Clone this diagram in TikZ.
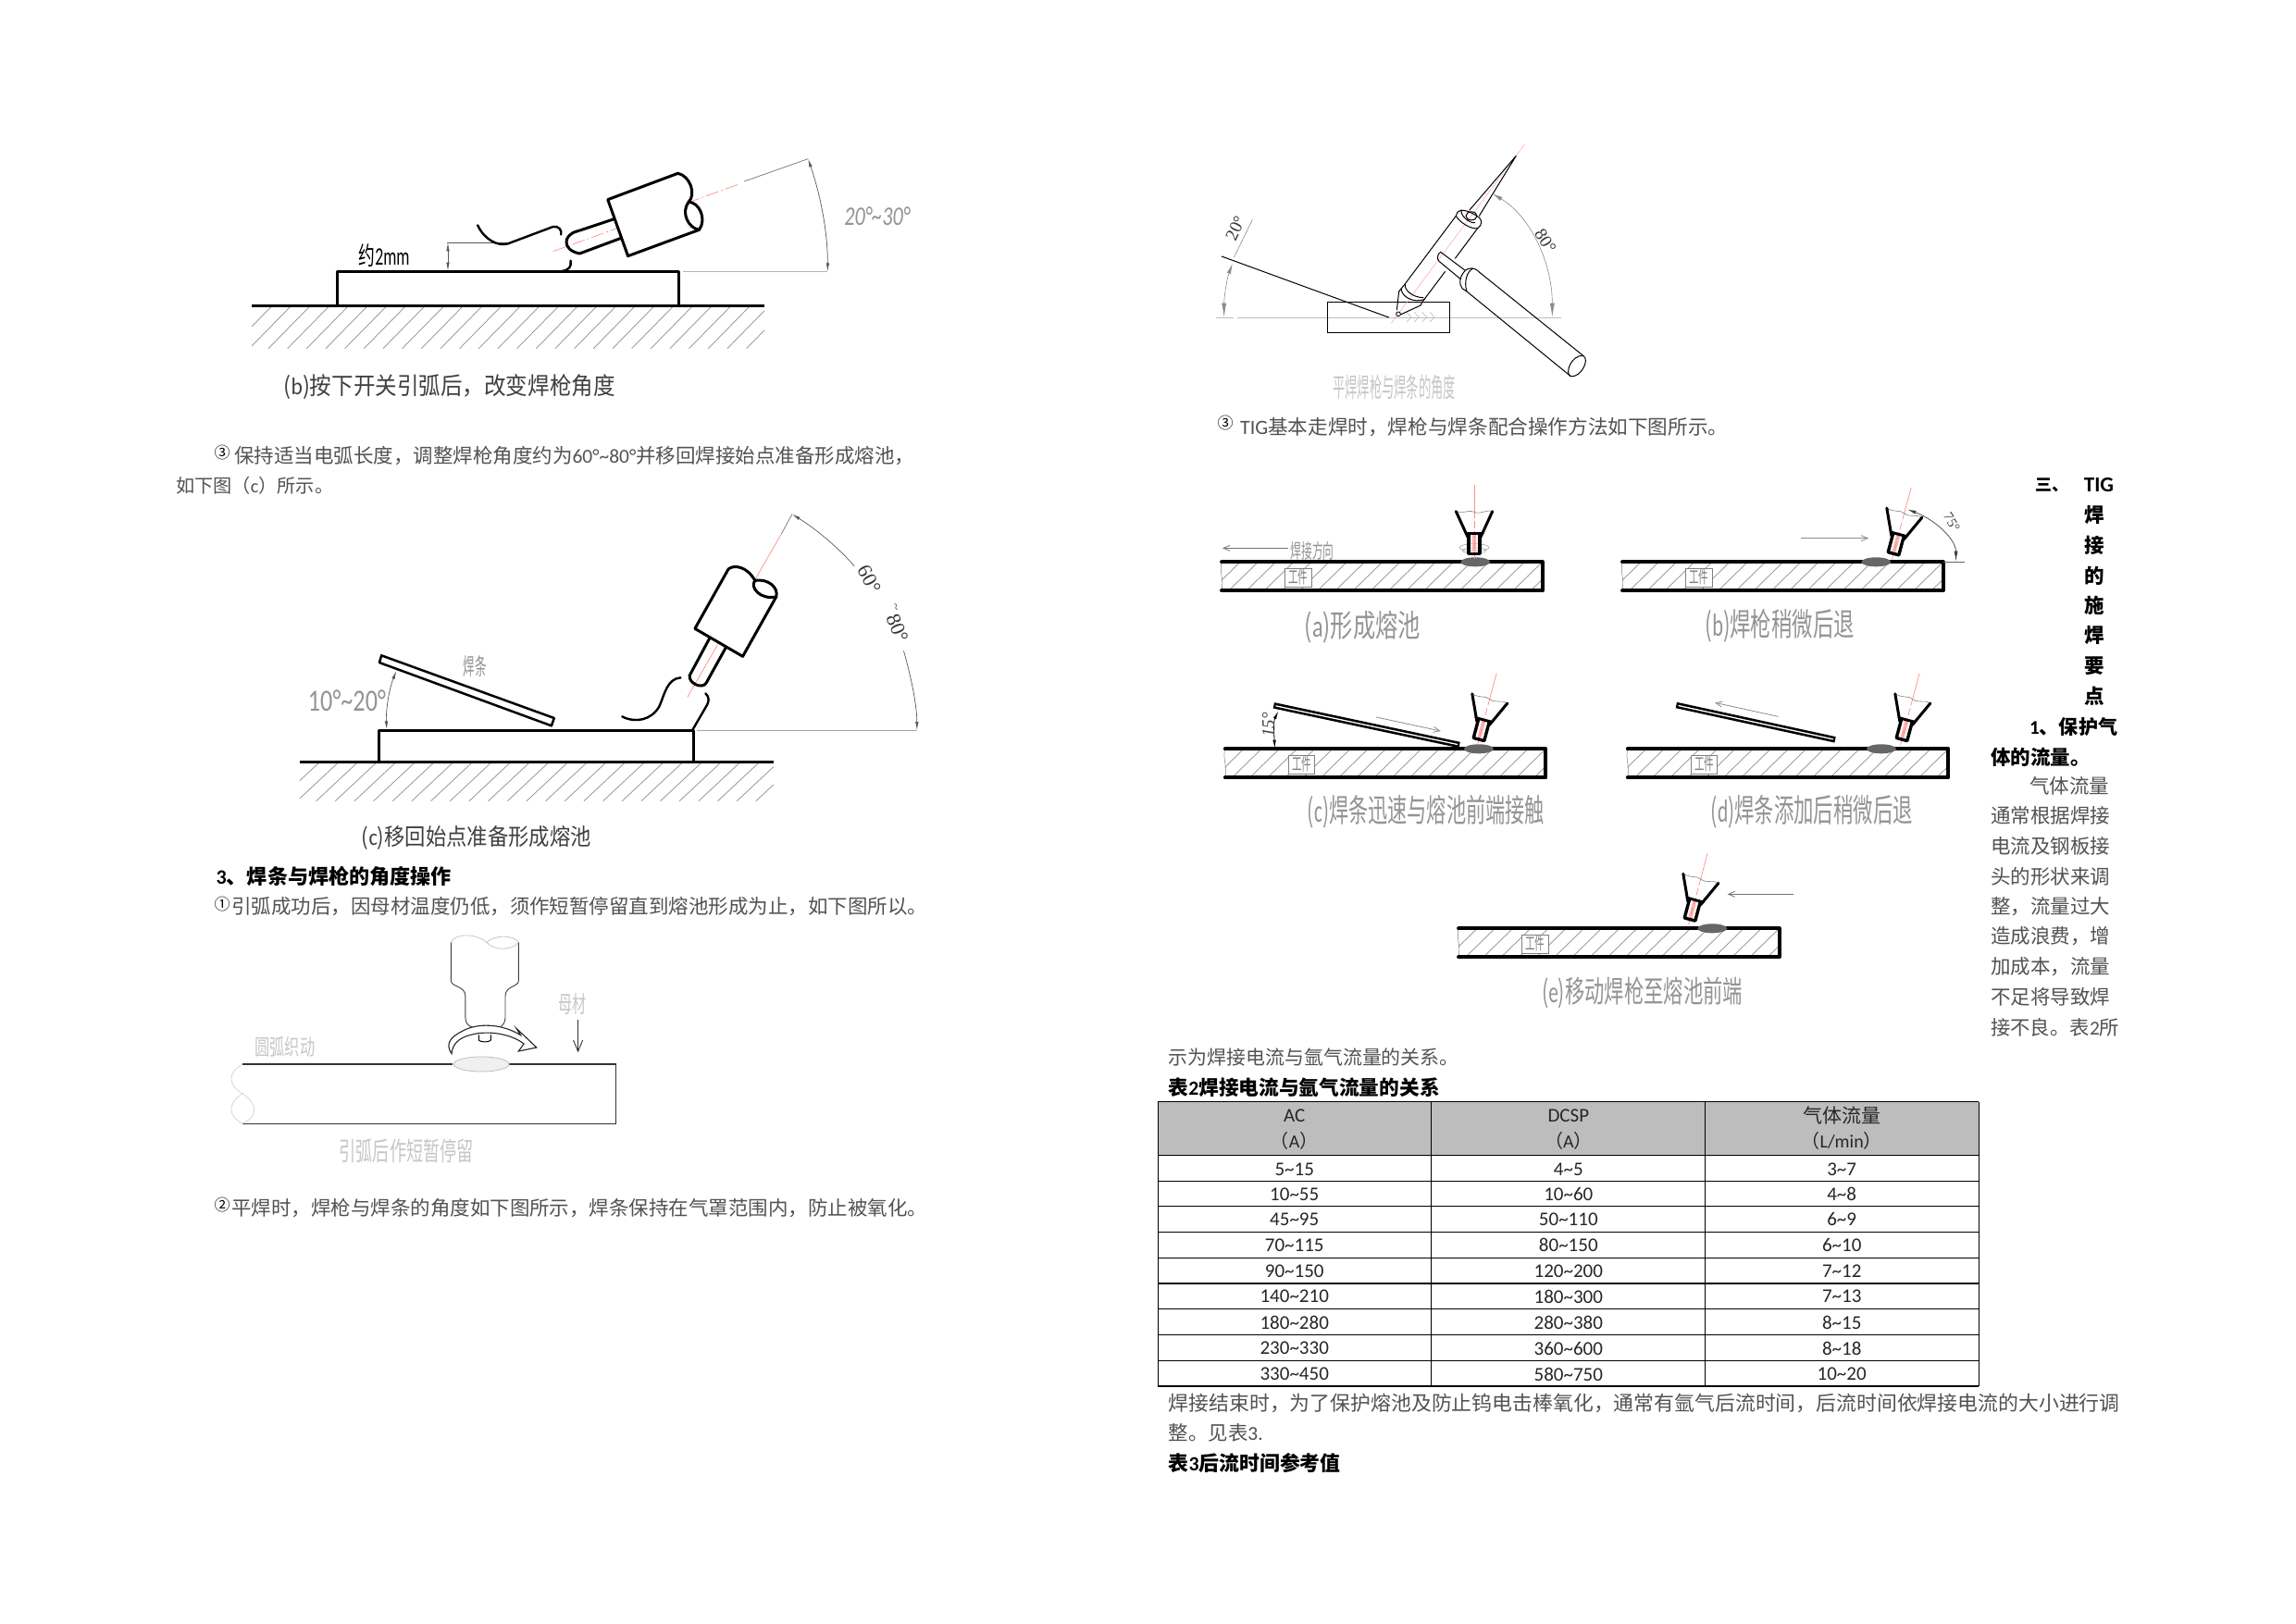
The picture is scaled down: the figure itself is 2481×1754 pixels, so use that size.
\documentclass[tikz,border=0pt]{standalone}
\usepackage{fontspec}
\usepackage{graphicx}
\usetikzlibrary{arrows.meta}
\setmainfont{Noto Sans CJK SC}
\newfontfamily\lat{Carlito}
\newfontfamily\ser{Liberation Serif}
\newcommand\tld{\textasciitilde}
\newcommand\fitw[2]{\resizebox{#1pt}{!}{#2}}
\newcommand\fitb[3]{\resizebox*{#1pt}{#2pt}{#3}}
\newcommand\px[1]{\fontsize{#1pt}{#1pt}\selectfont}
\tikzset{
  zoom/.style n args={3}{shift={(#1pt,-#2pt)},x=#3pt,y=-.33333pt},
  bodytxt/.style={anchor=west,inner sep=0pt,font=\px{21.5},text=black!68},
  boldtxt/.style={anchor=west,inner sep=0pt,font=\px{21.5}\bfseries,text=black},
  captxt/.style={inner sep=0pt,font=\px{24},text=black!75},
  paletxt/.style={inner sep=0pt,font=\px{24},text=black!42},
  vpale/.style={inner sep=0pt,font=\px{24},text=black!22},
  tcell/.style={inner sep=0pt,font=\px{21}\lat,text=black!85},
  thick3/.style={line width=3pt,black,line cap=round,line join=round},
  hatchl/.style={line width=.7pt,black!45},
  redc/.style={line width=.7pt,red!45},
  redd/.style={line width=.7pt,red!45,dash pattern=on 14pt off 3pt on 2pt off 3pt},
  dbl/.style={line width=.7pt,black!65,{Latex[length=9pt,width=3.5pt]}-{Latex[length=9pt,width=3.5pt]}},
  barb/.style={line width=.8pt,black!55,-{Straight Barb[length=7pt,width=6pt]}}
}
\newcommand\hatcharea[6]{% x1 y1 x2 y2 step run
  \begin{scope}
    \clip (#1,#2) rectangle (#3,#4);
    \foreach \h in {0,...,40}{\draw[hatchl] ({#1+\h*#5-#6},#4) -- ++(#6,{#2-#4});}
  \end{scope}}
\newcommand\tiggun[3]{%
  \begin{scope}[shift={(#1pt,-#2pt)},rotate=#3,x=1pt,y=-1pt]
    \fill[red!30] (-2,-22) rectangle (2,-2);
    \draw[redc] (0,-46) -- (0,-74);
    \draw[redc,dash pattern=on 8pt off 3pt] (0,-46) -- (0,8);
    \draw[line width=.6pt,black!50] (-19.7,-45.7) .. controls (-10,-43) and (-5,-48) .. (0,-45) .. controls (8,-42) and (12,-48) .. (19.7,-45.7);
    \draw[thick3] (-19.7,-45.7) -- (-7,-18) (19.7,-45.7) -- (7,-18);
    \draw[thick3] (-9,-21.7) -- (9,-21.7);
    \draw[thick3,line cap=butt,line width=3.4pt] (-6,-22) -- (-6,0) -- (6,0) -- (6,-22);
  \end{scope}}
\begin{document}
\begin{tikzpicture}[x=1pt,y=-1pt]
\useasboundingbox (0,0) rectangle (2481,1754);
\fill[white] (0,0) rectangle (2481,1754);

% ---- figure (b)
\begin{scope}[zoom={170}{130}{.574}]
  \hatcharea{178}{605}{1143}{740}{36}{77}
  \draw[line width=3.5pt] (178,601) -- (1143,601);
  \draw[thick3] (338,601) -- (338,491) -- (982,491) -- (982,601);
  \draw[line width=.8pt,black!65] (545,397) -- (660,397);
  \draw[dbl] (547,397) -- (547,488);
  \draw[line width=2.4pt,line cap=round] (603,340) .. controls (615,385) and (640,410) .. (660,400) -- (745,345) .. controls (755,342) and (762,355) .. (760,370);
  \draw[line width=2.4pt,line cap=round] (778,455) .. controls (780,475) and (775,485) .. (762,489);
  \draw[redd] (745,425) -- (1095,207);
  \draw[line width=.7pt,black!55] (1105,198) -- (1225,125);
  \draw[thick3,fill=white] (848,257) -- (980,172) .. controls (1003,180) and (1015,240) .. (1000,265) .. controls (1020,265) and (1035,320) .. (1020,355) -- (886,440) -- cycle;
  \draw[thick3] (1000,265) .. controls (985,300) and (1000,350) .. (1020,355);
  \draw[thick3] (860,320) -- (790,360) .. controls (765,370) and (760,420) .. (795,432) -- (873,382);
  \draw[dbl] (1225,125) .. controls (1250,250) and (1262,370) .. (1262,490);
  \draw[line width=1.5pt,black!30] (990,491) -- (1262,491);
  \node[paletxt] (ang1) at (1355,310) {\fitb{71}{20}{\lat\itshape 20°\tld30°}};
  \node[captxt,text=black] (dist) at (427,437) {\fitb{55}{25}{约{\lat 2mm}}};
  \node[captxt] (capb) at (550,865) {\fitb{358}{27}{({\lat b})按下开关引弧后，改变焊枪角度}};
\end{scope}

\node[font=\px{17},inner sep=0pt] (n3a) at (240,489) {③};
\node[bodytxt] (l1) at (253,493) {\fitw{735}{保持适当电弧长度，调整焊枪角度约为{\lat 60°\tld80°}并移回焊接始点准备形成熔池，}};
\node[bodytxt] (l2) at (190,525) {\fitw{170}{如下图（{\lat c}）所示。}};

% ---- figure (c)
\begin{scope}[zoom={170}{540}{.574}]
  \hatcharea{268}{853}{1160}{977}{36}{77}
  \draw[line width=3pt] (268,849) -- (1160,849);
  \draw[thick3] (418,849) -- (418,747) -- (1010,747) -- (1010,849);
  \draw[line width=.8pt,black!35] (1015,747) -- (1430,747);
  \draw[thick3,line width=2.5pt] (422,505) -- (418,528) -- (742,733) -- (747,708) -- cycle;
  \draw[dbl] (450,555) .. controls (435,620) and (430,690) .. (432,745);
  \node[paletxt] (ang2) at (357,653) {\fitb{84}{23}{\lat 10°\tld20°}};
  \node[paletxt] (rod2) at (598,540) {\fitb{25}{23}{焊条}};
  \draw[redc] (998,640) -- (1175,110);
  \draw[line width=.7pt,black!55] (1175,110) -- (1195,47);
  \draw[thick3,line width=2.4pt] (875,703) .. controls (900,725) and (930,715) .. (945,670) .. controls (955,630) and (960,580) .. (985,577);
  \draw[thick3,line width=2.4pt] (1032,628) .. controls (1040,640) and (1038,655) .. (1035,665) -- (1008,745);
  \draw[thick3,fill=white] (1012,418) -- (1075,225) .. controls (1085,210) and (1110,215) .. (1125,262) .. controls (1150,255) and (1170,285) .. (1165,315) -- (1102,508) -- cycle;
  \draw[thick3] (1125,262) .. controls (1115,285) and (1135,325) .. (1165,315);
  \draw[thick3] (1040,448) -- (1002,570) .. controls (1000,595) and (1025,615) .. (1033,595) -- (1070,480);
  \draw[line width=.7pt,black!65,{Latex[length=9pt,width=3.5pt]}-] (1195,47) .. controls (1240,95) and (1285,160) .. (1312,215);
  \draw[line width=.7pt,black!65,-{Latex[length=9pt,width=3.5pt]}] (1405,490) .. controls (1420,580) and (1430,670) .. (1430,747);
  \node[inner sep=0pt,font=\px{22}\ser,rotate=-62,text=black!80] (ang3) at (1340,258) {60°};
  \node[inner sep=0pt,font=\px{14}\ser,rotate=-75,text=black!80] (ang3b) at (1388,350) {\tld};
  \node[inner sep=0pt,font=\px{22}\ser,rotate=-68,text=black!80] (ang3c) at (1393,417) {80°};
  \node[captxt] (capc) at (601,1095) {\fitb{248}{26}{({\lat c})移回始点准备形成熔池}};
\end{scope}

\node[boldtxt] (h3) at (233.5,947) {\fitw{254}{{\lat 3}、焊条与焊枪的角度操作}};
\node[font=\px{17},inner sep=0pt] (n1a) at (240,977) {①};
\node[bodytxt] (l3) at (250,980) {\fitw{752}{引弧成功后，因母材温度仍低，须作短暂停留直到熔池形成为止，如下图所以。}};

% ---- figure: arc weaving
\begin{scope}[zoom={170}{930}{.574}]
  \draw[line width=.9pt,black!75] (553,265) -- (553,390) .. controls (553,410) and (580,405) .. (580,440) -- (580,510) .. controls (580,525) and (585,535) .. (592,540);
  \draw[line width=.9pt,black!75] (680,265) -- (680,390) .. controls (680,410) and (655,405) .. (655,440) -- (655,510) .. controls (655,525) and (650,535) .. (645,540);
  \draw[line width=.7pt,black!25] (553,265) .. controls (560,235) and (600,235) .. (620,265) .. controls (635,240) and (670,240) .. (680,265);
  \draw[line width=.7pt,black!25] (620,265) .. controls (635,295) and (670,290) .. (680,265);
  \draw[line width=1.1pt,black!85,fill=white] (554,626) .. controls (540,590) and (555,570) .. (575,552) .. controls (600,528) and (645,525) .. (684,566) -- (676,544) -- (714,606) -- (680,618) -- (690,594) .. controls (665,560) and (620,550) .. (590,565) .. controls (565,575) and (555,600) .. (554,626) -- cycle;
  \draw[line width=1pt] (605,565) -- (605,580) .. controls (605,590) and (628,590) .. (628,580) -- (628,565);
  \draw[line width=1.4pt,black!80] (160,660) -- (555,660) (662,660) -- (863,660) -- (863,853) -- (160,853);
  \draw[line width=.8pt,black!25,fill=black!6] (610,660) ellipse [x radius=30pt,y radius=8pt];
  \draw[line width=.7pt,black!18] (160,660) .. controls (130,690) and (135,730) .. (160,755) .. controls (130,790) and (135,830) .. (160,853);
  \draw[line width=.7pt,black!18] (160,755) .. controls (190,790) and (190,830) .. (160,853);
  \draw[line width=.9pt,black!80,-{Straight Barb[length=12pt,width=10pt]}] (792,516) -- (792,622);
  \node[vpale] (base) at (782,465) {\fitb{30}{23}{母材}};
  \node[vpale] (arcw) at (240,603) {\fitb{65}{22}{圆弧织动}};
  \node[vpale] (capw) at (469,941) {\fitb{145}{26}{引弧后作短暂停留}};
\end{scope}
\node[font=\px{17},inner sep=0pt] (n2a) at (240,1302) {②};
\node[bodytxt] (l4) at (250,1306) {\fitw{752}{平焊时，焊枪与焊条的角度如下图所示，焊条保持在气罩范围内，防止被氧化。}};

% ---- figure: flat welding torch
\begin{scope}[zoom={1290}{150}{.33333}]
  \draw[line width=.6pt,black!25] (72,579) -- (130,579) (140,579) -- (1190,579);
  \draw[line width=1pt] (433,528) rectangle (830,629);
  \foreach \c in {690,715,740,765}{\draw[line width=.5pt,black!30] (\c,562) -- ++(15,16) -- ++(-15,16);}
  \draw[line width=1pt] (90,381) -- (632,579);
  \draw[line width=.5pt,red!35] (640,598) -- (1072,18);
  \draw[line width=1pt] (893,232) -- (1045,55) -- (925,250);
  \draw[line width=1pt] (850,250) .. controls (855,225) and (880,225) .. (925,255) .. controls (935,265) and (935,280) .. (920,290);
  \draw[line width=1pt] (850,250) .. controls (860,270) and (900,295) .. (920,290);
  \draw[line width=1pt] (868,230) .. controls (862,250) and (895,275) .. (912,272);
  \draw[line width=1pt] (900,250) ellipse [x radius=6pt,y radius=4.5pt];
  \draw[line width=1pt] (850,250) -- (685,470) (920,290) -- (847,388) (815,430) -- (740,530);
  \draw[line width=1pt] (685,470) -- (665,495) -- (658,555) (740,530) -- (735,540) -- (670,570);
  \draw[line width=1pt] (685,470) .. controls (680,490) and (710,515) .. (745,515);
  \draw[line width=1pt] (672,485) .. controls (672,510) and (710,535) .. (750,520);
  \draw[line width=.8pt] (663,568) circle [radius=2.4pt];
  \draw[line width=1pt] (880,427) -- (800,367) .. controls (790,372) and (787,390) .. (795,397) -- (865,455);
  \draw[line width=1pt] (905,420) .. controls (885,430) and (875,465) .. (885,495);
  \draw[line width=1pt] (880,427) .. controls (862,445) and (858,470) .. (870,485) -- (885,495);
  \draw[line width=1pt] (880,427) .. controls (890,418) and (910,415) .. (925,432) -- (1262,703);
  \draw[line width=1pt] (885,495) -- (1222,770);
  \draw[line width=1pt] (1262,703) .. controls (1285,715) and (1255,775) .. (1222,770) .. controls (1200,760) and (1225,700) .. (1262,703);
  \draw[line width=.6pt,black!45] (190,262) -- (130,385);
  \draw[line width=.6pt,black!45,{Latex[length=11pt,width=4.5pt]}-{Latex[length=15pt,width=5pt]}] (125,405) .. controls (105,460) and (98,520) .. (98,578);
  \draw[line width=.6pt,black!45,{Latex[length=11pt,width=4.5pt]}-{Latex[length=15pt,width=5pt]}] (968,178) .. controls (1090,250) and (1162,400) .. (1162,578);
  \node[inner sep=0pt,font=\px{19}\ser,rotate=65,text=black!80] (a20) at (135,290) {20°};
  \node[inner sep=0pt,font=\px{19}\ser,rotate=-58,text=black!80] (a80) at (1140,330) {80°};
  \node[vpale] (capf) at (650,805) {\fitb{133}{27}{平焊焊枪与焊条的角度}};
\end{scope}
\node[font=\px{17},inner sep=0pt] (n3b) at (1324,457) {③};
\node[bodytxt] (l5) at (1335,461) {{\lat\px{22} TIG}\fitw{497}{基本走焊时，焊枪与焊条配合操作方法如下图所示。}};

% ---- plates of TIG steps
\foreach \ox/\oy in {1320/607.3,1753/607.3,1323.7/809.3,1758.7/809.3,1576/1003.3}{
  \begin{scope}[zoom={\ox}{\oy}{.5485}]
    \hatcharea{0}{3}{632}{93}{35}{56}
    \draw[line width=.5pt,black!50] (0,0) .. controls (-5,30) and (5,55) .. (0,93);
    \fill[white] (125,20) rectangle (177,81);
    \draw[line width=.7pt,black!50] (125,20) rectangle (177,81);
    \node[inner sep=0pt,font=\px{18},text=black!50] at (151,50) {\fitb{21}{17}{工件}};
    \draw[line width=3.8pt,line cap=round,line join=round] (0,0) -- (632,0) -- (632,93) -- (0,93);
    \fill[black!60] (500,0) ellipse [x radius=16pt,y radius=5pt];
  \end{scope}}

\begin{scope}[zoom={1310}{530}{.5485}]
  \draw[line width=.5pt,black!40] (516,185) ellipse [x radius=16pt,y radius=4pt];
  \draw[line width=.5pt,black!40] (516,195) ellipse [x radius=13pt,y radius=3pt];
  \draw[barb] (150,187) -- (20,187);
  \node[paletxt] (dira) at (197,195) {\fitb{47}{20}{焊接方向}};
  \node[paletxt] (capa) at (296,442) {\fitb{125}{35}{({\lat a})形成熔池}};
  \draw[barb,black!45] (1160,155) -- (1293,155);
  \draw[line width=.8pt,black!60] (1440,232) -- (1482,232);
  \draw[line width=.7pt,black!75,{Latex[length=9pt,width=4pt]}-{Latex[length=11pt,width=4pt]}] (1370,62) .. controls (1425,95) and (1465,160) .. (1465,230);
  \node[inner sep=0pt,font=\px{15}\ser,rotate=-60,text=black!75] (a75) at (1457,103) {75°};
  \node[paletxt] (capbb) at (1118,440) {\fitb{161}{36}{({\lat b})焊枪稍微后退}};
\end{scope}
\begin{scope}[zoom={1310}{730}{.5485}]
  \draw[line width=6.5pt,line cap=butt] (121,97) -- (487,225);
  \draw[line width=1.3pt,white] (125,98.5) -- (483,223.5);
  \draw[line width=6.5pt,line cap=butt] (914,96) -- (1227,208);
  \draw[line width=1.3pt,white] (918,97.5) -- (1223,206.5);
  \draw[dbl,line width=.8pt,black] (130,115) .. controls (120,150) and (122,200) .. (123,236);
  \node[inner sep=0pt,font=\px{19}\ser\itshape,rotate=90,text=black!75] (a15) at (110,160) {15°};
  \draw[barb,black!45] (323,135) -- (450,180);
  \draw[barb,black!45] (1115,133) -- (990,88);
  \draw[barb] (1145,709) -- (1015,709);
  \node[paletxt] (capcc) at (421,442) {\fitb{256}{36}{({\lat c})焊条迅速与熔池前端接触}};
  \node[paletxt] (capdd) at (1181,442) {\fitb{218}{36}{({\lat d})焊条添加后稍微后退}};
  \node[paletxt] (capee) at (847,1030) {\fitb{217}{34}{({\lat e})移动焊枪至熔池前端}};
\end{scope}
\tiggun{1593}{598.3}{0}
\tiggun{2046}{598.3}{-15}
\tiggun{1598}{799}{-15}
\tiggun{2055}{799}{-15}
\tiggun{1826}{993.5}{-15}

% ---- right column
\node[boldtxt] (t1a) at (2199,524) {\fitw{36}{三、}};
\node[boldtxt] (t1b) at (2251.7,524) {{\lat\px{23}\bfseries TIG}};
\foreach \y/\t in {556.8/焊,589.7/接,622/的,654.5/施,687/焊,719.8/要,752.6/点}{
  \node[boldtxt,anchor=center] at (2263,\y) {\t};}
\node[boldtxt] (t2) at (2193,785.4) {\fitw{95}{{\lat 1}、保护气}};
\node[boldtxt] (t3) at (2151,818) {体的流量。};
\node[bodytxt] (t4) at (2193,849.4) {气体流量};
\foreach \y/\t in {881.8/通常根据焊接,914.7/电流及钢板接,947/头的形状来调,980/整，流量过大,1012/造成浪费，增,1045/加成本，流量,1077.6/不足将导致焊}{
  \node[bodytxt] at (2151,\y) {\t};}
\node[bodytxt] (t5) at (2151,1110.4) {\fitw{139}{接不良。表{\lat 2}所}};

% ---- table
\node[bodytxt] (b1) at (1262.5,1143) {\fitw{314}{示为焊接电流与氩气流量的关系。}};
\node[boldtxt] (b2) at (1262.5,1175) {\fitw{293}{表{\lat 2}焊接电流与氩气流量的关系}};
\begin{scope}[zoom={1250}{1130}{.695}]
  \fill[black!26] (2,182) rectangle (1278,355);
  \foreach \y in {182,355,439,521,604,688,854,938,1022}{\draw[line width=1pt] (2,\y) -- (1278,\y);}
  \draw[line width=2.2pt] (2,771) -- (1278,771);
  \draw[line width=2.2pt] (2,1104) -- (1278,1104);
  \foreach \x in {2,427,852,1278}{\draw[line width=1pt] (\x,182) -- (\x,1104);}
  \node[tcell] (h1) at (214,226) {AC};
  \node[tcell] (h2) at (640,226) {DCSP};
  \node[tcell,font=\px{21}] (h3c) at (1065,226) {气体流量};
  \node[tcell,font=\px{20}] (h1u) at (214,310) {（{\lat A}）};
  \node[tcell,font=\px{20}] (h2u) at (640,310) {（{\lat A}）};
  \node[tcell,font=\px{20}] (h3u) at (1065,310) {（{\lat L/min}）};
  \foreach \y/\a/\b/\c in {400/5\tld15/4\tld5/3\tld7,481/10\tld55/10\tld60/4\tld8,563/45\tld95/50\tld110/6\tld9,647/70\tld115/80\tld150/6\tld10,731/90\tld150/120\tld200/7\tld12,813/140\tld210/180\tld300/7\tld13,897/180\tld280/280\tld380/8\tld15,981/230\tld330/360\tld600/8\tld18,1065/330\tld450/580\tld750/10\tld20}{
    \node[tcell] at (214,\y) {\a};
    \node[tcell] at (640,\y) {\b};
    \node[tcell] at (1065,\y) {\c};}
\end{scope}
\node[bodytxt] (b3) at (1262.5,1516.7) {\fitw{1028}{焊接结束时，为了保护熔池及防止钨电击棒氧化，通常有氩气后流时间，后流时间依焊接电流的大小进行调}};
\node[bodytxt] (b4) at (1262.5,1548) {\fitw{102}{整。见表{\lat 3.}}};
\node[boldtxt] (b5) at (1262.5,1581) {\fitw{186}{表{\lat 3}后流时间参考值}};
\end{tikzpicture}
\end{document}
